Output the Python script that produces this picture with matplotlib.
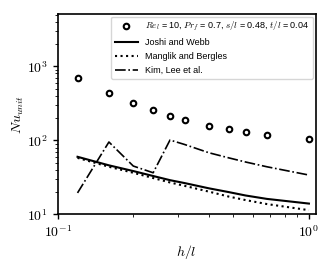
import matplotlib
matplotlib.use("Agg")
import matplotlib.pyplot as plt
from matplotlib.ticker import FuncFormatter, NullFormatter
import numpy as np

plt.rcParams['font.family'] = ['Liberation Sans', 'DejaVu Sans']
plt.rcParams['mathtext.fontset'] = 'cm'

h_l = [0.12, 0.16, 0.20, 0.24, 0.28, 0.32, 0.40, 0.48, 0.56, 0.68, 1.00]
nu_sim = [695, 436, 316, 254, 215, 190, 158, 141, 128, 118, 105]
nu_joshi = [60, 46, 38.5, 33, 29, 26.5, 22.5, 20.0, 18.0, 16.2, 14.0]
nu_manglik = [58, 44, 36.5, 31, 27, 24.3, 20.3, 17.4, 15.6, 13.8, 11.4]
nu_kim = [19.5, 95, 45, 36.5, 101, 88, 68, 58, 51, 44, 34]

labels = [r'$Re_l$ = 10, $Pr_f$ = 0.7, $s/l$ = 0.48, $t/l$ = 0.04',
          'Joshi and Webb', 'Manglik and Bergles', 'Kim, Lee et al.']

fig = plt.figure(figsize=(3.35, 2.68), dpi=100)
ax = fig.add_axes([0.172, 0.2, 0.771, 0.748])

ax.plot(h_l, nu_sim, 'o', mfc='white', mec='black', ms=4, mew=1.5, ls='none', label=labels[0])
ax.plot(h_l, nu_joshi, '-', color='black', lw=1.5, label=labels[1])
ax.plot(h_l, nu_manglik, ':', color='black', lw=1.5, label=labels[2])
ax.plot(h_l, nu_kim, '-.', color='black', lw=1.2, label=labels[3])

ax.set_xscale('log')
ax.set_yscale('log')
ax.set_xlim(0.1, 1.066)
ax.set_ylim(10, 5100)

fmt = FuncFormatter(lambda v, p: r'$10^{%d}$' % int(round(np.log10(v))))
ax.xaxis.set_major_formatter(fmt)
ax.yaxis.set_major_formatter(fmt)
ax.xaxis.set_minor_formatter(NullFormatter())
ax.yaxis.set_minor_formatter(NullFormatter())

ax.set_xlabel(r'$h/l$', fontsize=10, labelpad=2)
ax.set_ylabel(r'$Nu_{unit}$', fontsize=10, labelpad=1)
ax.tick_params(labelsize=10, width=1)
for s in ax.spines.values():
    s.set_linewidth(1.2)

ax.legend(loc='upper right', fontsize=6.5, frameon=True, borderaxespad=0.3,
          handlelength=2.6, labelspacing=0.55)

fig.savefig('out.png', dpi=100)
